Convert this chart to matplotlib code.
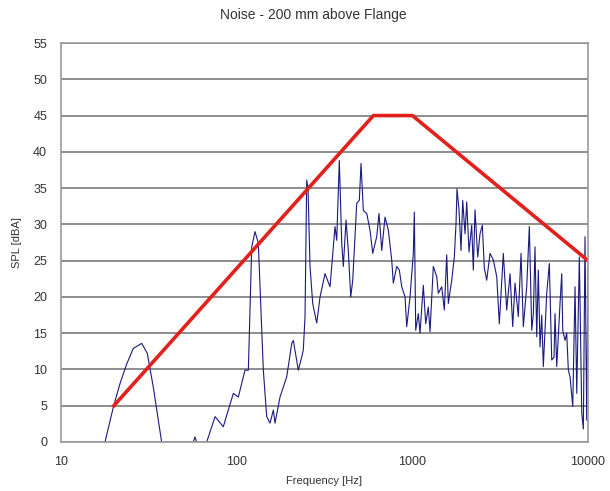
import matplotlib.pyplot as plt

# noise spectrum (Hz, dBA)
freq = [17.8, 19.9, 21.7, 23.7, 25.8, 28.8, 31.0, 33.5, 35.8, 37.4, 45.0,
        56.6, 57.9, 59.2, 63.0, 67.5, 75.3, 83.9, 95.7, 102.2, 111.5, 116.5,
        121.8, 127.2, 132.8, 138.8, 141.8, 148.2, 154.8, 161.7, 165.3, 176.5,
        192.7, 205.8, 210.1, 224.3, 234.5, 239.5, 244.9, 250.4, 254.7, 261.5,
        270.9, 285.5, 298.2, 318.3, 339.9, 362.9, 371.1, 383.9, 396.2, 404.6,
        419.2, 432.0, 445.9, 457.7, 482.3, 499.0, 510.3, 525.9, 549.9, 574.1,
        594.8, 626.7, 646.0, 669.3, 698.9, 729.8, 762.9, 779.1, 814.7, 843.0,
        869.9, 908.4, 928.9, 969.8, 1012.7, 1026.1, 1044.9, 1081.1, 1105.5,
        1154.4, 1191.2, 1232.5, 1260.3, 1316.1, 1376.2, 1405.3, 1469.3, 1520.2,
        1569.0, 1602.2, 1674.9, 1733.2, 1772.0, 1795.4, 1843.2, 1892.2, 1934.9,
        1994.1, 2039.1, 2101.2, 2177.0, 2223.1, 2273.3, 2355.3, 2427.4, 2501.7,
        2568.2, 2650.0, 2767.2, 2889.6, 3021.6, 3126.3, 3294.0, 3444.5, 3597.0,
        3726.0, 3840.1, 4010.0, 4154.7, 4282.0, 4477.0, 4632.2, 4780.6, 4882.0,
        4991.1, 5104.0, 5212.0, 5329.7, 5450.1, 5565.6, 5819.1, 6020.9, 6213.8,
        6404.1, 6488.7, 6634.0, 6927.5, 7083.9, 7177.5, 7396.1, 7563.3, 7723.5,
        7897.5, 8182.6, 8433.3, 8623.6, 8922.5, 9208.4, 9403.4, 9610.6, 9827.5,
        10000.0]
spl = [0.0, 4.9, 8.1, 10.8, 12.9, 13.6, 12.2, 7.6, 3.0, 0.0, -4.0,
       0.0, 0.7, 0.0, -2.0, 0.0, 3.5, 2.1, 6.7, 6.2, 9.9, 9.9,
       26.9, 29.0, 27.4, 15.4, 9.9, 3.5, 2.6, 4.4, 2.6, 6.2,
       9.0, 13.6, 14.0, 9.9, 11.7, 12.7, 17.3, 36.1, 35.0, 24.2,
       19.1, 16.4, 20.0, 23.2, 21.4, 29.7, 27.8, 38.8, 27.4, 24.2,
       30.6, 26.4, 20.0, 22.3, 32.9, 33.3, 38.4, 31.9, 31.5, 29.2,
       26.0, 28.3, 31.5, 26.4, 31.0, 29.2, 25.1, 21.9, 24.2, 23.7,
       21.4, 20.0, 15.9, 20.0, 26.0, 31.7, 15.4, 17.7, 15.0,
       21.6, 16.3, 18.6, 15.2, 24.2, 22.8, 20.5, 21.4, 18.2,
       25.8, 19.1, 22.3, 25.5, 30.1, 34.9, 32.0, 26.4, 33.3,
       28.7, 33.1, 26.2, 29.9, 23.7, 32.0, 25.5, 28.7, 29.9,
       24.0, 22.3, 26.0, 25.1, 22.8, 16.3, 26.0, 18.2, 23.2,
       15.9, 21.9, 17.3, 26.0, 15.9, 21.4, 29.7, 15.4, 17.7,
       26.9, 14.5, 23.7, 13.1, 17.5, 10.4, 20.5, 24.6, 11.3,
       11.7, 17.7, 10.4, 19.1, 23.2, 15.4, 14.0, 15.0, 9.9,
       9.0, 4.9, 21.4, 6.7, 25.5, 4.0, 1.8, 28.3, 3.0,
       24.0]

# limit line
limit_freq = [20, 600, 1000, 10000]
limit_spl = [5, 45, 45, 25]

plt.rcParams['font.family'] = ['Liberation Sans', 'DejaVu Sans']

fig = plt.figure(figsize=(6.1, 4.91), dpi=100)
ax = fig.add_axes([0.1, 0.0998, 0.864, 0.8126])

ax.plot(freq, spl, color='#1a1a80', linewidth=0.8)
ax.plot(limit_freq, limit_spl, color='#e3211c', linewidth=2.6)

ax.set_xscale('log')
ax.set_xlim(10, 10000)
ax.set_ylim(0, 55)
ax.set_xticks([10, 100, 1000, 10000])
ax.set_xticklabels(['10', '100', '1000', '10000'])
ax.xaxis.set_minor_locator(plt.NullLocator())
ax.set_yticks(range(0, 56, 5))

ax.yaxis.grid(True, color='#7a7a7a', linewidth=1.2)
ax.set_axisbelow(True)
for s in ax.spines.values():
    s.set_color('#9a9a9a')
    s.set_linewidth(1.2)
ax.tick_params(axis='both', length=0, labelsize=9, labelcolor='#333333')
ax.tick_params(axis='y', pad=10)
ax.tick_params(axis='x', pad=10)

fig.text(0.513, 0.969, 'Noise - 200 mm above Flange', ha='center', va='center',
         fontsize=10, color='#333333')
fig.text(0.531, 0.02, 'Frequency [Hz]', ha='center', va='center',
         fontsize=8, color='#333333')
fig.text(0.028, 0.507, 'SPL [dBA]', ha='center', va='center', rotation=90,
         fontsize=8, color='#333333')

plt.savefig('out.png', dpi=100)
plt.close()
